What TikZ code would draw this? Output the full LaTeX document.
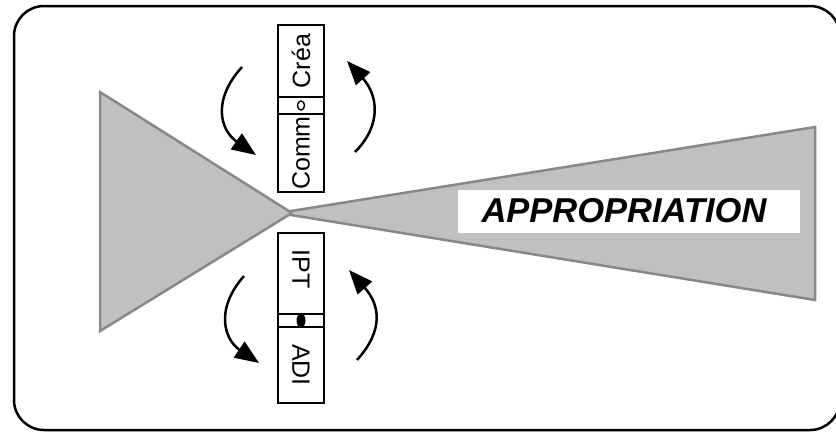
\documentclass[tikz,border=0pt]{standalone}
\usepackage{fontspec}
\setmainfont{Liberation Sans}
\usetikzlibrary{arrows.meta}
\definecolor{shade}{HTML}{C0C0C0}
\definecolor{shadeline}{HTML}{888888}
\tikzset{
  shape fill/.style={fill=shade, draw=shadeline, line width=2.5bp, line join=miter},
  segbox/.style={draw=black, line width=2bp, inner sep=0pt, font=\fontsize{25bp}{27bp}\selectfont},
  turnarrow/.style={line width=2.5bp, -{Triangle[length=24bp,width=19bp]}},
}
\begin{document}
\begin{tikzpicture}[x=1bp,y=-1bp]
\useasboundingbox (0,0) rectangle (836,432);
\begin{scope}
\clip (0,0) rectangle (836,432);
\draw[line width=2.5bp, rounded corners=30bp] (14,6) rectangle (840,430);
\end{scope}
% shapes
\draw[shape fill] (100,92) -- (292,213) -- (100,331) -- cycle;
\draw[shape fill] (291,211) -- (815,127) -- (815,300) -- (291,215) -- cycle;
\node[fill=white, minimum width=342bp, minimum height=43bp, inner sep=0pt] (label) at (629,211.5) {};
\node[font=\fontsize{34.5bp}{36bp}\selectfont\bfseries\itshape, inner sep=0pt] (appro) at (624,211) {APPROPRIATION};
% upper box
\node[segbox, rotate=90, minimum width=72bp, minimum height=46bp] (crea) at (301,61) {Créa};
\node[segbox, minimum width=46bp, minimum height=17bp] (mid1) at (301,105.5) {};
\node[segbox, rotate=90, minimum width=78bp, minimum height=46bp] (comm) at (301,153) {Comm};
\draw[line width=1.4bp] (301,105.5) ellipse [x radius=3.5bp, y radius=4.5bp];
% lower box
\node[segbox, rotate=-90, minimum width=81bp, minimum height=46bp] (iptbox) at (301,273.5) {};
\node[font=\fontsize{25bp}{27bp}\selectfont, rotate=-90, inner sep=0pt] (ipt) at (301,269) {IPT};
\node[segbox, minimum width=46bp, minimum height=13bp] (mid2) at (301,320.5) {};
\node[segbox, rotate=-90, minimum width=76bp, minimum height=46bp] (adi) at (301,365) {ADI};
\fill (301,320.5) ellipse [x radius=4.5bp, y radius=7bp];
% arrows
\coordinate (a1s) at (242,67);  \coordinate (a1e) at (256,155);
\coordinate (a2s) at (355,152); \coordinate (a2e) at (347,61);
\coordinate (a3s) at (244,276); \coordinate (a3e) at (259,363);
\coordinate (a4s) at (357,360); \coordinate (a4e) at (349,270);
\draw[turnarrow] (a1s) .. controls (212,100) and (220,130) .. (a1e);
\draw[turnarrow] (a2s) .. controls (382,125) and (378,95) .. (a2e);
\draw[turnarrow] (a3s) .. controls (214,310) and (225,340) .. (a3e);
\draw[turnarrow] (a4s) .. controls (384,330) and (380,305) .. (a4e);
\end{tikzpicture}
\end{document}
